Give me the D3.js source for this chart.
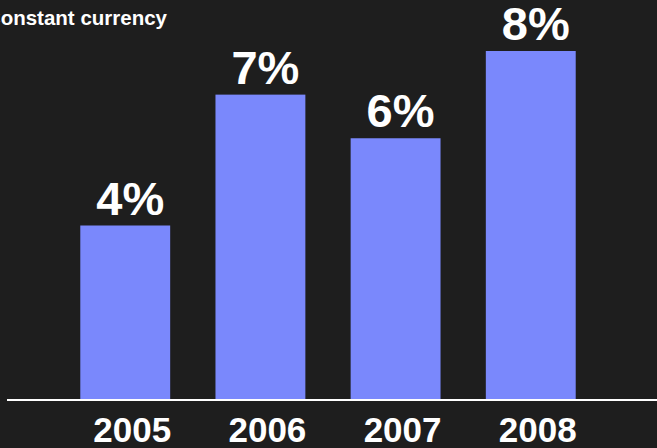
<!DOCTYPE html>
<html><head><meta charset="utf-8">
<script src="https://cdn.jsdelivr.net/npm/d3@7"></script>
<style>
html,body{margin:0;padding:0;background:#1e1e1e;}
svg{display:block;}
text{font-family:"Liberation Sans",Arial,sans-serif;font-weight:bold;fill:#fff;}
</style></head>
<body>
<script>
const categories = ["2005","2006","2007","2008"];
const values = [4, 7, 6, 8];
const valueLabels = ["4%","7%","6%","8%"];
const title = "Constant currency";

const W = 657, H = 448;
const svg = d3.select("body").append("svg").attr("width", W).attr("height", H);
svg.append("rect").attr("width", W).attr("height", H).attr("fill", "#1e1e1e");

const x = d3.scaleBand().domain(categories).range([35, 621]).padding(0.335);
const y = d3.scaleLinear().domain([0, 8]).range([400, 51]);

svg.append("text").attr("x", 167).attr("y", 25).attr("text-anchor", "end")
  .attr("font-size", 20.5).text(title);

svg.selectAll("rect.bar").data(values).join("rect").attr("class","bar")
  .attr("x", (d,i) => x(categories[i]))
  .attr("y", d => y(d))
  .attr("width", x.bandwidth())
  .attr("height", d => y(0) - y(d))
  .attr("fill", "#7a88fc");

svg.selectAll("text.val").data(values).join("text").attr("class","val")
  .attr("x", (d,i) => x(categories[i]) + x.bandwidth()/2 + 5)
  .attr("y", d => y(d) - 11)
  .attr("text-anchor", "middle")
  .attr("font-size", 47)
  .text((d,i) => valueLabels[i]);

const axis = d3.axisBottom(x).tickSize(0).tickPadding(0);
const g = svg.append("g").attr("transform", "translate(0,400)").call(axis);
g.select(".domain").remove();
g.selectAll(".tick text").attr("font-size", 35).attr("dy", 0).attr("y", 42)
  .attr("dx", 7).attr("fill", "#fff").style("font-family", "'Liberation Sans',Arial,sans-serif").style("font-weight","bold");
svg.append("line").attr("x1", 7).attr("x2", W).attr("y1", 400).attr("y2", 400)
  .attr("stroke", "#fff").attr("stroke-width", 2);
</script>
</body></html>
